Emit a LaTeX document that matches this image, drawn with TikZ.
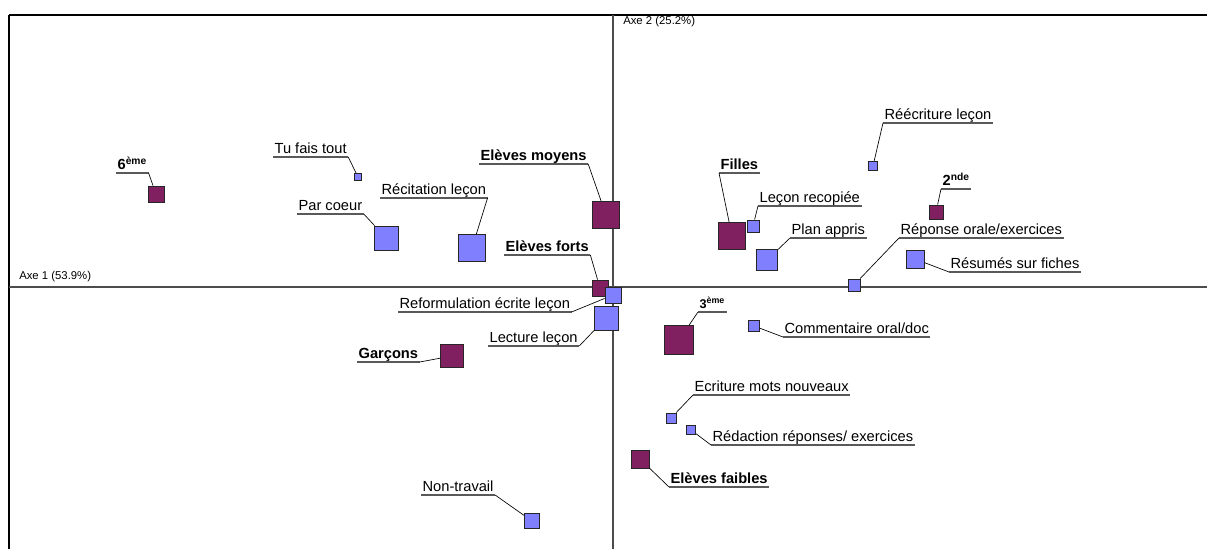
\documentclass[tikz,border=0pt]{standalone}
\usepackage{fontspec}
\setmainfont{Liberation Sans}
\definecolor{prune}{RGB}{128,32,96}
\definecolor{lavande}{RGB}{128,128,255}

\begin{document}
\begin{tikzpicture}[x=0.75pt,y=-0.75pt,
    eleve/.style={draw=black!85, line width=0.6pt, fill=prune, inner sep=0pt, minimum size=#1*0.75pt},
    pratique/.style={draw=black!85, line width=0.6pt, fill=lavande, inner sep=0pt, minimum size=#1*0.75pt},
    etiq/.style={anchor=south west, font=\fontsize{11}{13}\selectfont, inner xsep=1pt, inner ysep=2.25pt, text depth=0pt},
    etiqg/.style={etiq, font=\fontsize{11}{13}\selectfont\bfseries},
    axe/.style={anchor=base west, font=\fontsize{8.5}{10}\selectfont, inner sep=0pt},
    souligne/.style={draw=black!65, line width=0.8pt},
    renvoi/.style={draw=black, line width=0.5pt}]

    \useasboundingbox (0,0) rectangle (1207,549);

    % Cadre
    \draw[line width=1.5pt] (9,15) -- (1207,15);
    \draw[line width=0.8pt] (9,15) -- (9,549);

    % Assi
    \draw[black!70, line width=0.8pt] (9,287) -- (1207,287);
    \draw[black!70, line width=0.8pt] (613,15) -- (613,549);
    \node[axe] (axe1) at (19,279) {Axe 1 (53.9\%)};
    \node[axe] (axe2) at (623,25) {Axe 2 (25.2\%)};

    % Modalites eleves
    \node[eleve=16] (sixieme) at (156,194) {};
    \node[eleve=27] (moyens) at (606,215) {};
    \node[eleve=16] (forts) at (600,288) {};
    \node[eleve=23] (garcons) at (452,356) {};
    \node[eleve=29] (troisieme) at (679,340) {};
    \node[eleve=18] (faibles) at (640,459) {};
    \node[eleve=27] (filles) at (732,236) {};
    \node[eleve=14] (seconde) at (936,212) {};

    % Pratiques
    \node[pratique=7] (tufais) at (358,177) {};
    \node[pratique=24] (parcoeur) at (386,238) {};
    \node[pratique=27] (recitation) at (472,248) {};
    \node[pratique=16] (reformulation) at (613,295) {};
    \node[pratique=24] (lecture) at (606,318) {};
    \node[pratique=11] (commentaire) at (754,326) {};
    \node[pratique=10] (ecriture) at (671,418) {};
    \node[pratique=9] (redaction) at (691,430) {};
    \node[pratique=15] (nontravail) at (532,521) {};
    \node[pratique=12] (recopiee) at (753,226) {};
    \node[pratique=21] (plan) at (767,260) {};
    \node[pratique=9] (reecriture) at (873,166) {};
    \node[pratique=12] (reponse) at (854,285) {};
    \node[pratique=18] (resumes) at (915,259) {};

    % Etichette
    \node[etiqg] (sixieme-l) at (116,173) {6\textsuperscript{ème}};
    \node[etiqg] (moyens-l) at (479,164) {Elèves moyens};
    \node[etiqg] (forts-l) at (504,255) {Elèves forts};
    \node[etiqg] (garcons-l) at (357,362) {Garçons};
    \node[etiqg, font=\fontsize{9.5}{11}\selectfont\bfseries] (troisieme-l) at (698,312) {3\textsuperscript{ème}};
    \node[etiqg] (faibles-l) at (669,487) {Elèves faibles};
    \node[etiqg] (filles-l) at (719,173) {Filles};
    \node[etiqg] (seconde-l) at (941,189) {2\textsuperscript{nde}};

    \node[etiq] (tufais-l) at (273,157) {Tu fais tout};
    \node[etiq] (parcoeur-l) at (297,214) {Par coeur};
    \node[etiq] (recitation-l) at (380,198) {Récitation leçon};
    \node[etiq] (reformulation-l) at (398,312) {Reformulation écrite leçon};
    \node[etiq] (lecture-l) at (488,346) {Lecture leçon};
    \node[etiq] (commentaire-l) at (783,337) {Commentaire oral/doc};
    \node[etiq] (ecriture-l) at (693,395) {Ecriture mots nouveaux};
    \node[etiq] (redaction-l) at (711,445) {Rédaction réponses/ exercices};
    \node[etiq] (nontravail-l) at (421,495) {Non-travail};
    \node[etiq] (recopiee-l) at (758,206) {Leçon recopiée};
    \node[etiq] (plan-l) at (790,238) {Plan appris};
    \node[etiq] (reecriture-l) at (883,123) {Réécriture leçon};
    \node[etiq] (reponse-l) at (899,238) {Réponse orale/exercices};
    \node[etiq] (resumes-l) at (949,272) {Résumés sur fiches};

    % Sottolineature e rinvii
    \foreach \n/\c in {sixieme/east, moyens/east, forts/east, garcons/east, troisieme/west,
        faibles/west, filles/west, seconde/west, tufais/east, parcoeur/east, recitation/east,
        reformulation/east, lecture/east, commentaire/west, ecriture/west, redaction/west,
        nontravail/east, recopiee/west, plan/west, reecriture/west, reponse/west, resumes/west} {
        \draw[souligne] (\n-l.south west) -- (\n-l.south east);
        \draw[renvoi] (\n-l.south \c) -- (\n);
    }

\end{tikzpicture}
\end{document}
